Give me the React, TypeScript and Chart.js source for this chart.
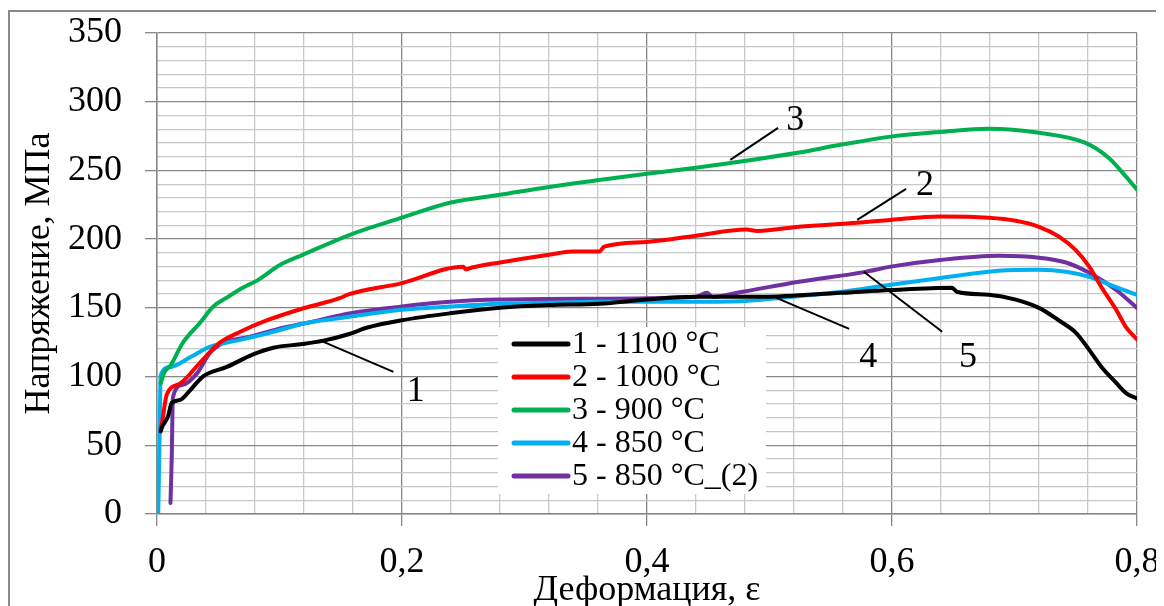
import React, { useEffect, useRef } from "react";
import { Chart, registerables } from "chart.js";

Chart.register(...registerables);

const seriesLabels = ["1 - 1100 °C", "2 - 1000 °C", "3 - 900 °C", "4 - 850 °C", "5 - 850 °C_(2)"];
const seriesColors = ["#000000", "#ff0000", "#00b050", "#00b0f0", "#7030a0"];

const eps1 = [0.003, 0.004, 0.009, 0.012, 0.019, 0.027, 0.0375, 0.057, 0.078, 0.095, 0.117, 0.135, 0.157, 0.171, 0.2, 0.239, 0.28, 0.32, 0.361, 0.4, 0.44, 0.494, 0.559, 0.599, 0.649, 0.653, 0.679, 0.701, 0.72, 0.736, 0.75, 0.761, 0.771, 0.783, 0.791, 0.8];
const sig1 = [60, 63, 71, 81, 83, 90, 100, 107, 116, 121, 123.5, 126, 131, 135.5, 141, 146, 150, 152, 153, 156, 158, 158, 161, 163, 164.6, 161.7, 159.5, 156, 150, 141, 132, 119.4, 107, 95.4, 88, 84];

const eps2 = [0.003, 0.004, 0.008, 0.019, 0.035, 0.051, 0.068, 0.09, 0.117, 0.149, 0.157, 0.2, 0.25, 0.252, 0.258, 0.28, 0.32, 0.339, 0.361, 0.365, 0.4, 0.44, 0.481, 0.49, 0.524, 0.572, 0.599, 0.639, 0.679, 0.701, 0.72, 0.736, 0.75, 0.761, 0.771, 0.783, 0.791, 0.8];
const sig2 = [62, 66, 87, 95, 110, 124.5, 132.6, 141, 149, 157, 160, 168, 180, 178, 179.5, 183, 188.6, 191, 191, 194.5, 198, 202.5, 207, 206, 209, 212, 214, 216.5, 215.6, 213.4, 209, 202, 192, 180, 165, 148.6, 136, 127];

const eps3 = [0.003, 0.006, 0.011, 0.021, 0.035, 0.046, 0.058, 0.07, 0.082, 0.1, 0.119, 0.157, 0.2, 0.239, 0.28, 0.32, 0.361, 0.4, 0.44, 0.481, 0.524, 0.559, 0.599, 0.639, 0.679, 0.72, 0.758, 0.777, 0.791, 0.8];
const sig3 = [95, 103, 108, 124.5, 139, 151, 158, 164.6, 170, 181, 188.6, 203, 215.6, 226.5, 232.3, 238, 243, 247.6, 252, 257, 263, 268.8, 274.6, 278, 280.4, 277.4, 270, 259, 245.5, 236];

const eps4 = [0.001, 0.002, 0.003, 0.011, 0.027, 0.043, 0.068, 0.095, 0.122, 0.157, 0.2, 0.239, 0.28, 0.32, 0.361, 0.44, 0.481, 0.506, 0.559, 0.599, 0.641, 0.687, 0.72, 0.742, 0.761, 0.783, 0.8];
const sig4 = [0, 50, 101, 107, 114, 121.6, 126.7, 132.6, 139, 143.5, 148.6, 151, 153, 153.7, 154.4, 154.4, 155, 157, 161.7, 166.8, 171.9, 177, 177.7, 176.3, 172.6, 165, 159.5];

const eps5 = [0.011, 0.012, 0.013, 0.021, 0.033, 0.043, 0.054, 0.076, 0.103, 0.127, 0.157, 0.2, 0.239, 0.28, 0.361, 0.44, 0.449, 0.4535, 0.478, 0.524, 0.577, 0.599, 0.641, 0.687, 0.72, 0.742, 0.761, 0.783, 0.8];
const sig5 = [8, 40, 85, 94, 102.7, 117, 124.5, 129, 135.5, 140, 146, 151, 154.4, 156, 156.6, 158, 161, 158, 161.7, 169, 176, 180, 185, 187.9, 186.5, 183, 175.5, 163, 150];

const xTickValues = [0, 0.2, 0.4, 0.6, 0.8];
const xTickLabels = ["0", "0,2", "0,4", "0,6", "0,8"];
const yTickValues = [0, 50, 100, 150, 200, 250, 300, 350];
const yTickLabels = ["0", "50", "100", "150", "200", "250", "300", "350"];

const xTitle = "Деформация, ε";
const yTitle = "Напряжение, МПа";

// leader-line annotations (data units)
const annText = ["1", "2", "3", "4", "5"];
const annFromX = [0.1345, 0.5716, 0.468, 0.5056, 0.577];
const annFromY = [125.8, 214, 257.7, 157.3, 176.3];
const annToX = [0.193, 0.6115, 0.507, 0.565, 0.641];
const annToY = [103.4, 236.6, 281, 134.7, 132.6];
const annLabelX = [0.2112, 0.627, 0.521, 0.5806, 0.662];
const annLabelY = [89.5, 240, 287, 114.3, 114.3];

const epsAll = [eps1, eps2, eps3, eps4, eps5];
const sigAll = [sig1, sig2, sig3, sig4, sig5];

const FONT = "'Liberation Serif', 'Times New Roman', serif";
const MAJOR = "#878787";
const MINOR = "#c8c8c8";

function isMul(v: number, step: number) {
  const r = v / step;
  return Math.abs(r - Math.round(r)) < 1e-6;
}
function labelFor(v: number, vals: number[], labels: string[]) {
  for (let i = 0; i < vals.length; i++) if (Math.abs(vals[i] - v) < 1e-6) return labels[i];
  return "";
}

const decorPlugin = {
  id: "decor",
  beforeDraw(chart: any) {
    const ctx = chart.ctx;
    ctx.save();
    ctx.strokeStyle = "#8a8a8a";
    ctx.lineWidth = 2;
    ctx.beginPath();
    ctx.moveTo(1, chart.height + 5);
    ctx.lineTo(1, 3);
    ctx.lineTo(chart.width + 5, 3);
    ctx.stroke();
    ctx.restore();
  },
  afterDraw(chart: any) {
    const ctx = chart.ctx;
    const xs = chart.scales.x;
    const ys = chart.scales.y;
    const ca = chart.chartArea;
    ctx.save();
    // leader lines and numbers
    ctx.strokeStyle = "#000";
    ctx.lineWidth = 2;
    ctx.fillStyle = "#000";
    ctx.font = `36px ${FONT}`;
    ctx.textAlign = "center";
    ctx.textBaseline = "middle";
    for (let i = 0; i < annText.length; i++) {
      ctx.beginPath();
      ctx.moveTo(xs.getPixelForValue(annFromX[i]), ys.getPixelForValue(annFromY[i]));
      ctx.lineTo(xs.getPixelForValue(annToX[i]), ys.getPixelForValue(annToY[i]));
      ctx.stroke();
      ctx.fillText(annText[i], xs.getPixelForValue(annLabelX[i]), ys.getPixelForValue(annLabelY[i]) + 1);
    }
    // legend
    const bx = ca.left + 341;
    const by = ca.top + 294;
    const bw = 268;
    const bh = 167;
    ctx.fillStyle = "#ffffff";
    ctx.fillRect(bx, by, bw, bh);
    ctx.font = `32px ${FONT}`;
    ctx.textAlign = "left";
    ctx.textBaseline = "middle";
    ctx.lineCap = "round";
    for (let i = 0; i < seriesLabels.length; i++) {
      const yy = by + 17 + i * 33;
      ctx.strokeStyle = seriesColors[i];
      ctx.lineWidth = 5;
      ctx.beginPath();
      ctx.moveTo(bx + 16, yy);
      ctx.lineTo(bx + 70, yy);
      ctx.stroke();
      ctx.fillStyle = "#000";
      ctx.fillText(seriesLabels[i], bx + 74, yy + 1);
    }
    ctx.restore();
  },
};

export default function App() {
  const ref = useRef<HTMLCanvasElement | null>(null);
  useEffect(() => {
    if (!ref.current) return;
    const datasets = epsAll.map((eps, i) => ({
      label: seriesLabels[i],
      data: eps.map((x, j) => ({ x, y: sigAll[i][j] })),
      borderColor: seriesColors[i],
      backgroundColor: seriesColors[i],
      borderWidth: 4,
      pointRadius: 0,
      fill: false,
      cubicInterpolationMode: "monotone" as const,
      borderJoinStyle: "round" as const,
      borderCapStyle: "round" as const,
    }));
    const chart = new Chart(ref.current, {
      type: "line",
      data: { datasets },
      plugins: [decorPlugin],
      options: {
        animation: false,
        responsive: false,
        maintainAspectRatio: false,
        layout: { padding: { top: 25, right: 19, left: 0, bottom: 0 } },
        plugins: { legend: { display: false }, tooltip: { enabled: false } },
        scales: {
          x: {
            type: "linear",
            min: 0,
            max: 0.8,
            afterFit: (s: any) => {
              s.height = 92;
              s.paddingLeft = 0;
              s.paddingRight = 0;
            },
            ticks: {
              stepSize: 0.04,
              autoSkip: false,
              maxRotation: 0,
              minRotation: 0,
              padding: 15,
              color: "#000",
              font: { family: FONT, size: 36 },
              callback: (v: any) => labelFor(Number(v), xTickValues, xTickLabels),
            },
            grid: {
              color: (c: any) => (isMul(c.tick.value, 0.2) ? MAJOR : MINOR),
              tickColor: (c: any) => (isMul(c.tick.value, 0.2) ? MAJOR : "rgba(0,0,0,0)"),
              lineWidth: 1.3,
              tickLength: 12,
            },
            border: { display: true, color: MAJOR, width: 1.5 },
            title: {
              display: true,
              text: xTitle,
              color: "#000",
              font: { family: FONT, size: 36, lineHeight: 1.1 },
              padding: { top: 0, bottom: -4 },
            },
          },
          y: {
            type: "linear",
            min: 0,
            max: 350,
            afterFit: (s: any) => {
              s.width = 149;
              s.paddingTop = 0;
              s.paddingBottom = 0;
            },
            ticks: {
              stepSize: 10,
              autoSkip: false,
              padding: 23,
              color: "#000",
              font: { family: FONT, size: 36 },
              callback: (v: any) => labelFor(Number(v), yTickValues, yTickLabels),
            },
            grid: {
              color: (c: any) => (isMul(c.tick.value, 50) ? MAJOR : MINOR),
              tickColor: (c: any) => (isMul(c.tick.value, 50) ? MAJOR : "rgba(0,0,0,0)"),
              lineWidth: 1.3,
              tickLength: 12,
            },
            border: { display: true, color: MAJOR, width: 1.5 },
            title: {
              display: true,
              text: yTitle,
              color: "#000",
              font: { family: FONT, size: 36, lineHeight: 1.1 },
              padding: { top: 12, bottom: 0 },
            },
          },
        },
      },
    });
    return () => chart.destroy();
  }, []);
  return (
    <div style={{ width: 1148, height: 598, position: "relative" }}>
      <canvas ref={ref} width={1148} height={598} style={{ display: "block" }} />
    </div>
  );
}
